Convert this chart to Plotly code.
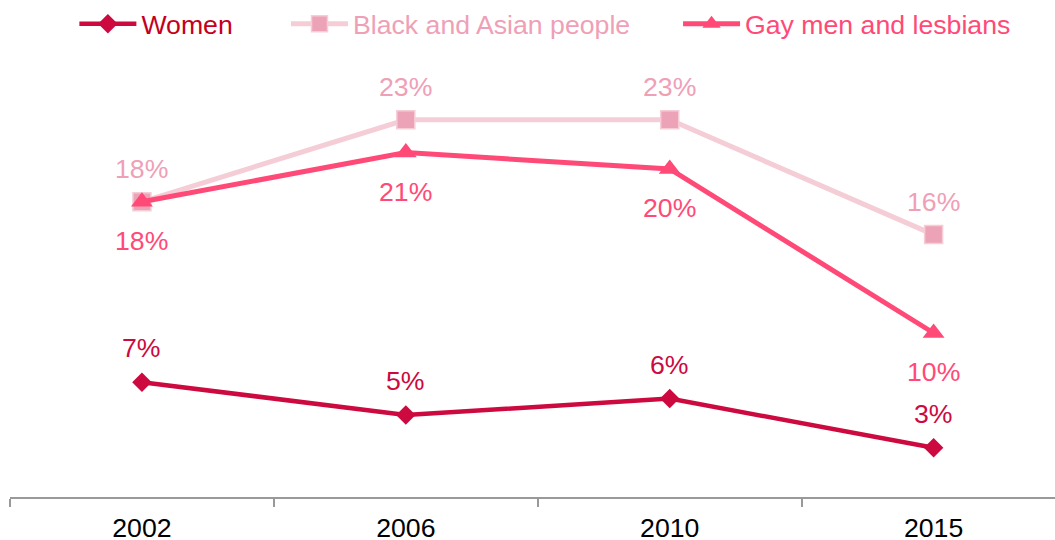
import plotly.graph_objects as go

years = ["2002", "2006", "2010", "2015"]
women = [7, 5, 6, 3]
black_asian = [18, 23, 23, 16]
gay = [18, 21, 20, 10]

women_labels = ["7%", "5%", "6%", "3%"]
black_labels = ["18%", "23%", "23%", "16%"]
gay_labels = ["18%", "21%", "20%", "10%"]

C_WOMEN = "#CC0A3F"
C_WOMEN_TXT = "#C4001E"
C_BLACK_LINE = "#F5CDD7"
C_BLACK_MARK = "#EDA3B7"
C_BLACK_TXT = "#EFA0B6"
C_GAY = "#FF4A78"

FONT = "Liberation Sans, Arial, sans-serif"
FS = 26.67

fig = go.Figure()

fig.add_trace(go.Scatter(
    x=years, y=black_asian, name="Black and Asian people", mode="lines+markers",
    line=dict(color=C_BLACK_LINE, width=5),
    marker=dict(symbol="square", size=18, color=C_BLACK_MARK,
                line=dict(color=C_BLACK_LINE, width=1.5)),
    legend="legend2", showlegend=True, cliponaxis=False, hoverinfo="skip",
))
fig.add_trace(go.Scatter(
    x=years, y=gay, name="Gay men and lesbians", mode="lines+markers",
    line=dict(color=C_GAY, width=5),
    marker=dict(symbol="triangle-up", size=19, color=C_GAY),
    legend="legend3", showlegend=True, cliponaxis=False, hoverinfo="skip",
))
fig.add_trace(go.Scatter(
    x=years, y=women, name="Women", mode="lines+markers",
    line=dict(color=C_WOMEN, width=4.5),
    marker=dict(symbol="diamond", size=15, color=C_WOMEN),
    legend="legend", showlegend=True, cliponaxis=False, hoverinfo="skip",
))

ann = []
for ys, labs, col, shift in [
    (women, women_labels, C_WOMEN, 34),
    (black_asian, black_labels, C_BLACK_TXT, 33),
    (gay, gay_labels, C_GAY, -39),
]:
    for i, (yv, t) in enumerate(zip(ys, labs)):
        ann.append(dict(x=i, y=yv, xref="x", yref="y", text=t, showarrow=False,
                        yshift=shift, font=dict(family=FONT, size=FS, color=col)))

leg_common = dict(orientation="h", xref="container", yref="container",
                  yanchor="middle", xanchor="left", bgcolor="rgba(0,0,0,0)",
                  itemwidth=57, tracegroupgap=0)

fig.update_layout(
    width=1055, height=540,
    margin=dict(l=10, r=0, t=87, b=43, autoexpand=False),
    paper_bgcolor="white", plot_bgcolor="white",
    font=dict(family=FONT, size=FS, color="#000000"),
    annotations=ann,
    showlegend=True,
    hovermode=False,
    legend=dict(x=0.0705, y=0.9556, font=dict(family=FONT, size=FS, color=C_WOMEN_TXT), **leg_common),
    legend2=dict(x=0.2711, y=0.9556, font=dict(family=FONT, size=FS, color=C_BLACK_TXT), **leg_common),
    legend3=dict(x=0.6427, y=0.9556, font=dict(family=FONT, size=FS, color=C_GAY), **leg_common),
    xaxis=dict(
        type="category", range=[-0.5, 3.46], tickson="boundaries",
        automargin=False,
        showline=True, linecolor="#999999", linewidth=2,
        ticks="outside", ticklen=8, tickcolor="#999999", tickwidth=1.5,
        ticklabelstandoff=6,
        showgrid=False, zeroline=False,
        tickfont=dict(family=FONT, size=FS, color="#000000"),
    ),
    yaxis=dict(range=[0, 25], visible=False, showgrid=False, zeroline=False,
               automargin=False),
)

fig.write_html("out.html", config={"displayModeBar": False},
               post_script="document.body.style.margin='0';document.body.style.overflow='hidden';")
